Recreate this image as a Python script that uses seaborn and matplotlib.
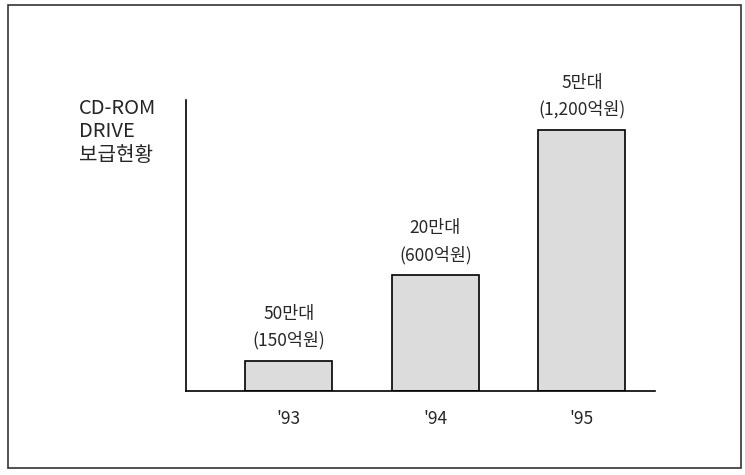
import matplotlib
matplotlib.use("Agg")
import matplotlib.pyplot as plt
import matplotlib.patches as patches
import seaborn as sns

# ── data ──────────────────────────────────────────────────────────────
years = ["'93", "'94", "'95"]
units = ["50만대", "20만대", "5만대"]
amounts = ["(150억원)", "(600억원)", "(1,200억원)"]
bar_heights = [138, 533, 1200]   # drawn heights, 억원 scale

sns.set_style("white")
plt.rcParams["font.family"] = ["Noto Sans CJK KR", "DejaVu Sans"]

fig = plt.figure(figsize=(7.45, 4.75), dpi=100)
ax = fig.add_axes([0.2497, 0.1768, 0.6298, 0.6125])

sns.barplot(x=years, y=bar_heights, color="#dcdcdc", edgecolor="black",
            linewidth=1.2, width=0.594, saturation=1, ax=ax)

ax.set_xlim(-0.7, 2.5)
ax.set_ylim(0, 1338)
ax.set_yticks([])
ax.tick_params(axis="x", length=0, pad=14, labelsize=12.5)
ax.set_xlabel(""); ax.set_ylabel("")
for s in ["top", "right"]:
    ax.spines[s].set_visible(False)
for s in ["left", "bottom"]:
    ax.spines[s].set_color("black")
    ax.spines[s].set_linewidth(1.2)

# ── value labels above bars ───────────────────────────────────────────
for i, (u, a, h) in enumerate(zip(units, amounts, bar_heights)):
    ax.annotate(f"{u}\n{a}", xy=(i, h), xytext=(0, 8), textcoords="offset points",
                ha="center", va="bottom", fontsize=12.5, linespacing=1.6)

# ── axis caption ──────────────────────────────────────────────────────
fig.text(79 / 745, 1 - 98 / 475, "CD-ROM\nDRIVE\n보급현황", ha="left", va="top",
         fontsize=14.5, linespacing=1.15)

# ── outer frame ───────────────────────────────────────────────────────
fig.patches.append(patches.Rectangle((8 / 745, 7 / 475), 733 / 745, 463 / 475,
                                     transform=fig.transFigure, fill=False,
                                     edgecolor="#333333", linewidth=1.2))

fig.savefig("out.png", dpi=100)
